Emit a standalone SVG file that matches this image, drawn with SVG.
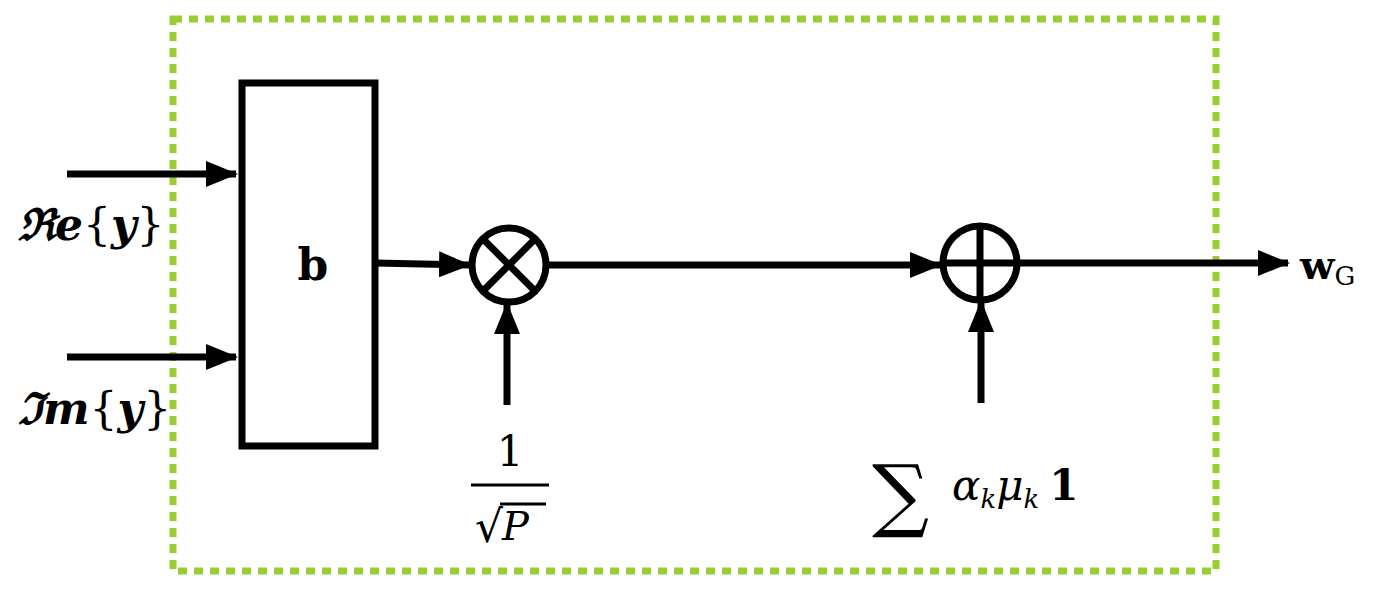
<svg xmlns="http://www.w3.org/2000/svg" width="1383" height="593" viewBox="0 0 1383 593">
<style>
.ln{stroke:#000;stroke-width:7;fill:none}
.t{font-family:"DejaVu Serif","Liberation Serif",serif;fill:#000}
</style>
<defs>
<marker id="ah" markerWidth="32" markerHeight="26" refX="30" refY="13" orient="auto" markerUnits="userSpaceOnUse">
<path d="M0,0 L32,13 L0,26 z" fill="#000"/>
</marker>
</defs>
<rect width="1383" height="593" fill="#fff"/>
<rect id="frame" x="173" y="19" width="1043" height="552" fill="none" stroke="#9acd32" stroke-width="7" stroke-dasharray="9,7"/>
<g id="blockB"><rect x="242" y="83" width="133" height="363" class="ln" stroke-width="6"/>
<text x="313" y="280" class="t" font-size="44" font-weight="bold" text-anchor="middle" font-family="Liberation Serif">b</text></g>
<g id="mult"><circle cx="509" cy="265" r="37" class="ln"/>
<path d="M483,239 L535,291 M535,239 L483,291" class="ln"/></g>
<g id="add"><circle cx="980" cy="263" r="37" class="ln"/>
<path d="M943,263 L1017,263 M980,226 L980,300" class="ln"/></g>
<g id="connectors">
<line x1="67" y1="174" x2="236" y2="174" class="ln" marker-end="url(#ah)"/>
<line x1="67" y1="357" x2="236" y2="357" class="ln" marker-end="url(#ah)"/>
<line x1="375" y1="263" x2="469" y2="265" class="ln" marker-end="url(#ah)"/>
<line x1="546" y1="265" x2="940" y2="265" class="ln" marker-end="url(#ah)"/>
<line x1="1017" y1="263" x2="1288" y2="263" class="ln" marker-end="url(#ah)"/>
<line x1="507" y1="405" x2="507" y2="304" class="ln" marker-end="url(#ah)"/>
<line x1="981" y1="403" x2="981" y2="302" class="ln" marker-end="url(#ah)"/>
</g>
<g id="labels">
<text x="18" y="240" class="t" font-size="44" font-weight="bold" font-style="italic">ℜ<tspan>e</tspan><tspan font-style="normal" font-weight="normal">{</tspan>y<tspan font-style="normal" font-weight="normal">}</tspan></text>
<text x="18" y="424" class="t" font-size="44" font-weight="bold" font-style="italic">ℑ<tspan>m</tspan><tspan font-style="normal" font-weight="normal">{</tspan>y<tspan font-style="normal" font-weight="normal">}</tspan></text>
<text x="1300" y="279" class="t" font-size="40" font-weight="bold" font-family="Liberation Serif">w<tspan font-size="26" font-weight="normal" dy="6">G</tspan></text>
<text x="510" y="466" class="t" font-size="42" text-anchor="middle" font-family="Liberation Serif">1</text>
<line x1="471" y1="485" x2="549" y2="485" stroke="#000" stroke-width="3"/>
<text x="475" y="542" class="t" font-size="44">√</text>
<line x1="500" y1="504" x2="546" y2="504" stroke="#000" stroke-width="3"/>
<text x="502" y="540" class="t" font-size="40" font-style="italic">P</text>
<text x="872" y="522" class="t" font-size="80" transform="translate(872 522) scale(1 1) translate(-872 -522)">∑</text>
<text x="952" y="500" class="t" font-size="42" font-style="italic">α<tspan font-size="26" dy="8">k</tspan><tspan dy="-8">μ</tspan><tspan font-size="26" dy="8">k</tspan><tspan dy="-8" font-style="normal" font-weight="bold" dx="10">1</tspan></text>
</g>
</svg>
